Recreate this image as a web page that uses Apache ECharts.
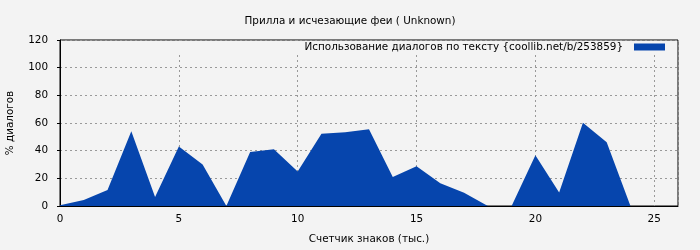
<!DOCTYPE html>
<html>
<head>
<meta charset="utf-8">
<script src="https://cdn.jsdelivr.net/npm/echarts@6/dist/echarts.min.js"></script>
<style>
html,body{margin:0;padding:0;background:#f3f3f3;}
#c{width:700px;height:250px;}
</style>
</head>
<body>
<div id="c"></div>
<script>
var titleText = 'Прилла и исчезающие феи ( Unknown)';
var seriesName = 'Использование диалогов по тексту {coollib.net/b/253859}';
var xName = 'Счетчик знаков (тыс.)';
var yName = '% диалогов';
var xValues = [0,1,2,3,4,5,6,7,8,9,10,11,12,13,14,15,16,17,18,19,20,21,22,23,24];
var yValues = [0.6,4.3,11.5,54,6.5,43,30,0,39,41,25,52.3,53.3,55.4,21,28.8,16.5,9.6,0,0,36.7,9.8,60.2,46,0];
var xTicks = {min:0, max:26, interval:5};
var yTicks = {min:0, max:120, interval:20};

var font = 'DejaVu Sans';
var fs = 10.4;
var chart = echarts.init(document.getElementById('c'), null, {renderer:'canvas'});
chart.setOption({
  backgroundColor:'#f3f3f3',
  animation:false,
  title:{text:titleText, left:'center', top:11, textStyle:{fontFamily:font, fontSize:fs, fontWeight:'normal', color:'#000'}},
  legend:{
    data:[seriesName], right:23, top:41, align:'right',
    backgroundColor:'#f3f3f3', padding:[1,12,1,130],
    icon:'rect', itemWidth:31, itemHeight:7,
    textStyle:{fontFamily:font, fontSize:fs, color:'#000', padding:[0,6,0,0]}
  },
  grid:{left:60, right:22, top:40, bottom:44, show:true, borderColor:'#000', borderWidth:1, backgroundColor:'transparent', outerBoundsMode:'none', containLabel:false},
  xAxis:{
    type:'value', min:xTicks.min, max:xTicks.max, interval:xTicks.interval,
    name:xName, nameLocation:'middle', nameGap:28,
    nameTextStyle:{fontFamily:font, fontSize:fs, color:'#000'},
    axisLine:{lineStyle:{color:'#000'}},
    axisTick:{show:false},
    axisLabel:{fontFamily:font, fontSize:fs, color:'#000', margin:8, showMaxLabel:false},
    splitLine:{show:true, lineStyle:{color:'#999', type:[2,3]}}
  },
  yAxis:{
    type:'value', min:yTicks.min, max:yTicks.max, interval:yTicks.interval,
    name:yName, nameLocation:'middle', nameGap:45,
    nameTextStyle:{fontFamily:font, fontSize:fs, color:'#000'},
    axisLine:{show:true, lineStyle:{color:'#000'}},
    axisTick:{show:true, length:3, lineStyle:{color:'#000'}},
    axisLabel:{fontFamily:font, fontSize:fs, color:'#000', margin:12},
    splitLine:{show:true, lineStyle:{color:'#999', type:[2,3]}}
  },
  series:[{
    name:seriesName, type:'line',
    data:xValues.map(function(x,i){return [x, yValues[i]];}),
    showSymbol:false, symbol:'none',
    itemStyle:{color:'#0645ad'},
    lineStyle:{width:0, color:'#0645ad'},
    areaStyle:{color:'#0645ad', opacity:1}
  }]
});
</script>
</body>
</html>
